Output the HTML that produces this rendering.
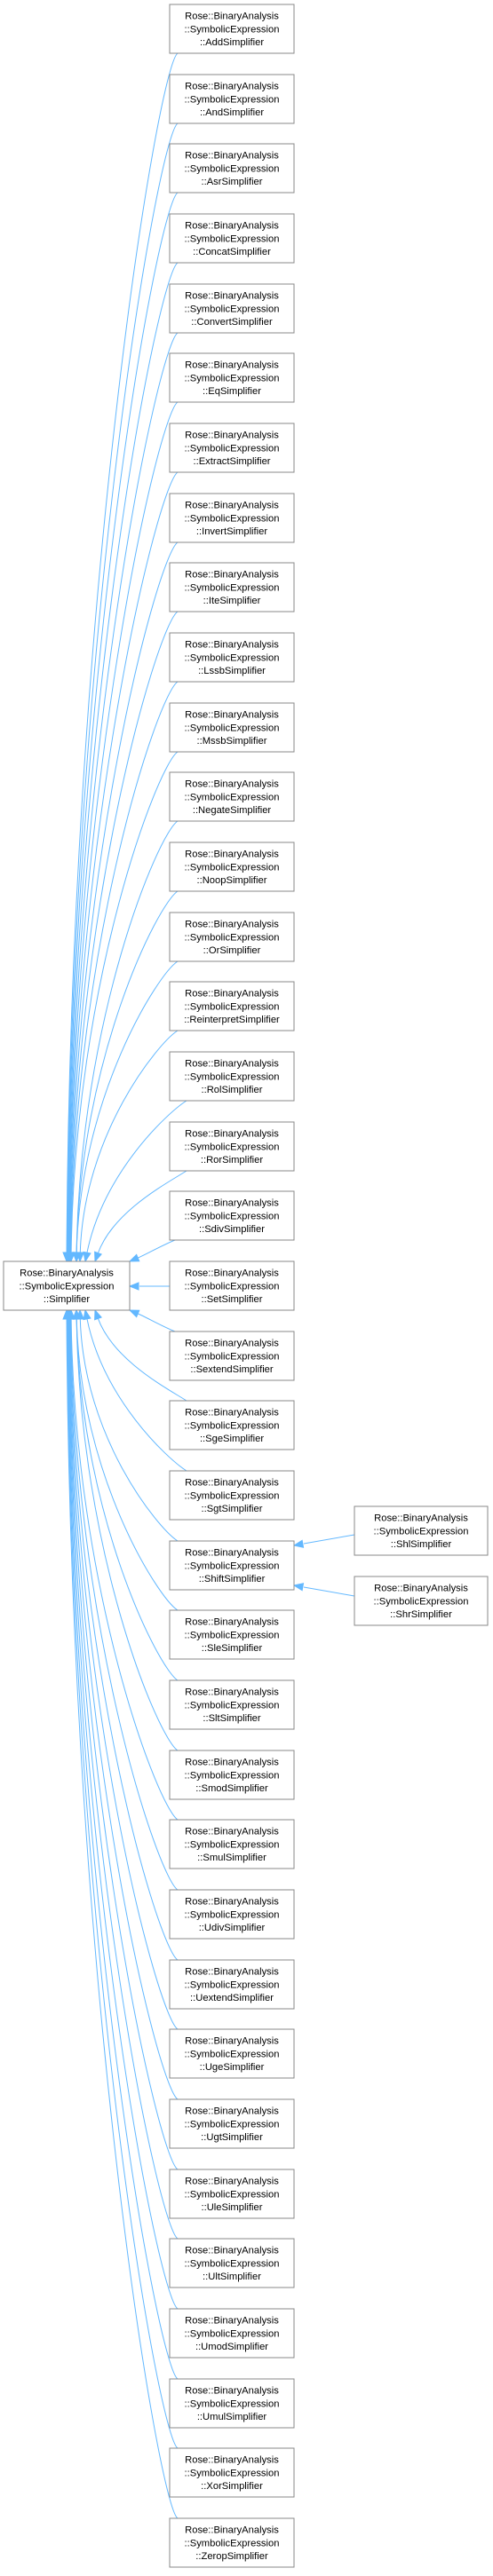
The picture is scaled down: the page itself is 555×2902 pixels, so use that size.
<!DOCTYPE html>
<html><head><meta charset="utf-8">
<style>
html,body{margin:0;padding:0;background:#fff;}
body{width:555px;height:2897px;overflow:hidden;}
svg text{font-family:"Liberation Sans",Helvetica,Arial,sans-serif;font-size:11.2px;fill:#000;}
</style></head>
<body>
<svg id="g" width="555" height="2897" viewBox="0 0 555 2897" xmlns="http://www.w3.org/2000/svg"></svg>
<script>
var names=["Add","And","Asr","Concat","Convert","Eq","Extract","Invert","Ite","Lssb","Mssb","Negate","Noop","Or","Reinterpret","Rol","Ror","Sdiv","Set","Sextend","Sge","Sgt","Shift","Sle","Slt","Smod","Smul","Udiv","Uextend","Uge","Ugt","Ule","Ult","Umod","Umul","Xor","Zerop"];
var s="";
var C="#63b8ff";
function box(x,y,w,h,last){
  s+='<rect x="'+x+'" y="'+y+'" width="'+w+'" height="'+h+'" fill="#fff" stroke="#888" stroke-width="1"/>';
  var cx=x+w/2;
  s+='<text x="'+cx+'" y="'+(y+16.5)+'" text-anchor="middle">Rose::BinaryAnalysis</text>';
  s+='<text x="'+cx+'" y="'+(y+31.5)+'" text-anchor="middle">::SymbolicExpression</text>';
  s+='<text x="'+cx+'" y="'+(y+46)+'" text-anchor="middle">::'+last+'</text>';
}
function arrow(px,py,ex,ey){
  var dx=ex-px,dy=ey-py,l=Math.sqrt(dx*dx+dy*dy)||1;dx/=l;dy/=l;
  var L=10,W=4;
  var bx=ex-dx*L,by=ey-dy*L;
  s+='<polygon points="'+ex+','+ey+' '+(bx-dy*W)+','+(by+dx*W)+' '+(bx+dy*W)+','+(by-dx*W)+'" fill="'+C+'" stroke="'+C+'"/>';
}
var edges="";
var BX=4,BY=1421,BW=142,BH=55;
var P=78.67;
for(var i=0;i<names.length;i++){
  var y=Math.round(5+i*P);
  var d=i-18;
  if(d===0){
    edges+='<path d="M191,1449 L157,1449" fill="none" stroke="'+C+'"/>';
    var sv=s;s="";arrow(191,1449,146,1449);edges+=s;s=sv;
    continue;
  }
  var ad=Math.abs(d);
  var xe;
  if(ad===1)xe=146;else if(ad===2)xe=107;else if(ad===3)xe=96;else if(ad===4)xe=90;else if(ad<8)xe=86;else xe=80-Math.min(6,(ad-8)*0.5);
  var ye,y0,x0;
  if(d<0){y0=y+55;ye=BY;}else{y0=y;ye=BY+BH;}
  x0=ad===1?197:(ad<4?210:200);
  var span=ye-y0;
  var p1x,p1y,p2x,p2y;
  if(ad===1){
    p1x=180;p1y=y0+(d<0?7:-7);p2x=165;p2y=ye+(d<0?-8:8);
  }else{
    p1x=x0-22;p1y=y0+(d<0?14:-14);
    p2x=xe+(ad<4?20:4);p2y=ye-span*0.55;
  }
  var dx=xe-p2x,dy=ye-p2y,l=Math.sqrt(dx*dx+dy*dy);
  var exs=xe-dx/l*9,eys=ye-dy/l*9;
  edges+='<path d="M'+x0+','+y0+' C'+p1x+','+p1y+' '+p2x+','+p2y+' '+exs+','+eys+'" fill="none" stroke="'+C+'" stroke-width="1"/>';
  var save=s;s="";arrow(p2x,p2y,xe,ye);edges+=s;s=save;
}
s="";
s+='<path d="M399,1729 L342,1739" fill="none" stroke="'+C+'"/>';
arrow(399,1729,331,1741);
s+='<path d="M399,1798 L342,1788" fill="none" stroke="'+C+'"/>';
arrow(399,1798,331,1786);
s=edges+s;
box(BX,BY,BW,BH,"Simplifier");
for(var i=0;i<names.length;i++){box(191,Math.round(5+i*P),140,55,names[i]+"Simplifier");}
box(399,1697,150,55,"ShlSimplifier");
box(399,1776,150,55,"ShrSimplifier");
document.getElementById("g").innerHTML=s;
</script>
</body></html>
